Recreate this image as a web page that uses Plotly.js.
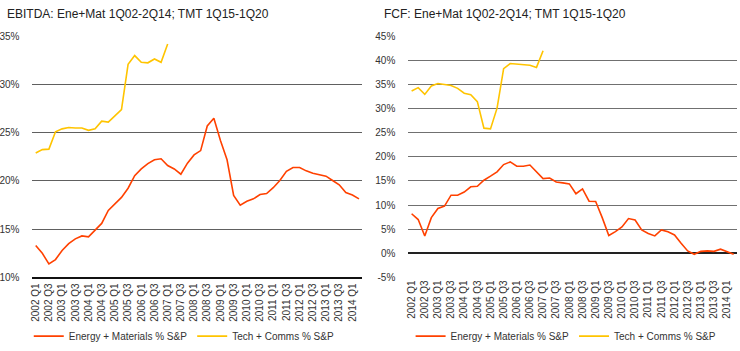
<!DOCTYPE html>
<html>
<head>
<meta charset="utf-8">
<script src="https://cdn.plot.ly/plotly-3.0.1.min.js"></script>
<style>html,body{margin:0;padding:0;background:#fff}#chart{width:740px;height:351px}</style>
</head>
<body>
<div id="chart"></div>
<script>
const quarters = ["2002 Q1","2002 Q2","2002 Q3","2002 Q4","2003 Q1","2003 Q2","2003 Q3","2003 Q4",
"2004 Q1","2004 Q2","2004 Q3","2004 Q4","2005 Q1","2005 Q2","2005 Q3","2005 Q4",
"2006 Q1","2006 Q2","2006 Q3","2006 Q4","2007 Q1","2007 Q2","2007 Q3","2007 Q4",
"2008 Q1","2008 Q2","2008 Q3","2008 Q4","2009 Q1","2009 Q2","2009 Q3","2009 Q4",
"2010 Q1","2010 Q2","2010 Q3","2010 Q4","2011 Q1","2011 Q2","2011 Q3","2011 Q4",
"2012 Q1","2012 Q2","2012 Q3","2012 Q4","2013 Q1","2013 Q2","2013 Q3","2013 Q4",
"2014 Q1","2014 Q2"];
const xTickLabels = ["2002 Q1","2002 Q3","2003 Q1","2003 Q3","2004 Q1","2004 Q3","2005 Q1","2005 Q3",
"2006 Q1","2006 Q3","2007 Q1","2007 Q3","2008 Q1","2008 Q3","2009 Q1","2009 Q3","2010 Q1","2010 Q3",
"2011 Q1","2011 Q3","2012 Q1","2012 Q3","2013 Q1","2013 Q3","2014 Q1"];

// EBITDA share of S&P (%)
const ebitdaEnergyMat = [13.3,12.5,11.4,11.85,12.8,13.5,14.0,14.3,14.2,14.95,15.6,16.95,17.6,18.3,19.25,20.55,
21.25,21.8,22.2,22.3,21.6,21.25,20.7,21.85,22.7,23.15,25.7,26.5,24.2,22.2,18.5,17.5,17.9,18.15,18.6,18.7,
19.3,20.05,21.0,21.4,21.4,21.05,20.8,20.65,20.5,20.05,19.6,18.8,18.55,18.15];
const ebitdaTechComms = [22.9,23.25,23.3,25.1,25.4,25.55,25.5,25.5,25.25,25.4,26.2,26.1,26.75,27.4,32.1,33.0,
32.3,32.25,32.65,32.3,34.2];

// FCF share of S&P (%)
const fcfEnergyMat = [8.2,7.0,3.6,7.4,9.3,9.8,12.05,12.05,12.7,13.8,13.9,15.15,16.0,16.9,18.4,18.95,18.05,18.05,
18.3,16.8,15.5,15.6,14.8,14.6,14.4,12.35,13.35,10.8,10.75,7.4,3.7,4.5,5.45,7.2,6.9,4.85,4.1,3.6,4.85,4.45,3.8,
2.1,0.5,-0.2,0.4,0.5,0.4,0.85,0.3,-0.2];
const fcfTechComms = [33.65,34.35,32.95,34.7,35.2,34.95,34.8,34.2,33.2,32.9,31.45,25.95,25.8,30.1,38.3,39.35,
39.2,39.15,39.0,38.55,42.0];

const leftYVals = [10,15,20,25,30,35];
const leftYText = ["10%","15%","20%","25%","30%","35%"];
const rightYVals = [-5,0,5,10,15,20,25,30,35,40,45];
const rightYText = ["-5%","0%","5%","10%","15%","20%","25%","30%","35%","40%","45%"];

const seriesNames = ["Energy + Materials % S&P","Tech + Comms % S&P"];
const titles = ["EBITDA: Ene+Mat 1Q02-2Q14; TMT 1Q15-1Q20","FCF: Ene+Mat 1Q02-2Q14; TMT 1Q15-1Q20"];

const RED = "#FF4100", YEL = "#FFC400";
const FONT = "Liberation Sans, Arial, sans-serif";

const traces = [
  {x: quarters, y: ebitdaEnergyMat, name: seriesNames[0], type: "scatter", mode: "lines",
   line: {color: RED, width: 1.6}, xaxis: "x", yaxis: "y", legend: "legend"},
  {x: quarters.slice(0, ebitdaTechComms.length), y: ebitdaTechComms, name: seriesNames[1], type: "scatter", mode: "lines",
   line: {color: YEL, width: 1.6}, xaxis: "x", yaxis: "y", legend: "legend"},
  {x: quarters, y: fcfEnergyMat, name: seriesNames[0], type: "scatter", mode: "lines",
   line: {color: RED, width: 1.6}, xaxis: "x2", yaxis: "y2", legend: "legend2"},
  {x: quarters.slice(0, fcfTechComms.length), y: fcfTechComms, name: seriesNames[1], type: "scatter", mode: "lines",
   line: {color: YEL, width: 1.6}, xaxis: "x2", yaxis: "y2", legend: "legend2"}
];

const xCommon = {type: "category", categoryorder: "array", categoryarray: quarters,
  tickmode: "array", tickvals: xTickLabels, ticktext: xTickLabels, tickangle: -90,
  tickfont: {size: 10, color: "#333", family: FONT}, showgrid: false, zeroline: false,
  ticks: "", range: [-0.5, 49.5], fixedrange: true};

const legendCommon = {orientation: "h", yanchor: "middle", y: 0.037, xanchor: "center",
  font: {size: 10, color: "#333", family: FONT}, itemwidth: 30, tracegroupgap: 0,
  bgcolor: "rgba(0,0,0,0)"};

const layout = {
  width: 740, height: 351,
  margin: {l: 0, r: 0, t: 0, b: 0},
  paper_bgcolor: "#fff", plot_bgcolor: "#fff",
  font: {family: FONT, color: "#333"},
  showlegend: true,
  xaxis: Object.assign({}, xCommon, {domain: [0.0438, 0.4896], anchor: "y",
    showline: true, linecolor: "#111", linewidth: 2}),
  yaxis: {domain: [0.2051, 0.8960], range: [10, 35], anchor: "x", tickmode: "array",
    tickvals: leftYVals, ticktext: leftYText, showgrid: true, gridcolor: "#606060", gridwidth: 1,
    zeroline: false, tickfont: {size: 10, color: "#333", family: FONT}, ticks: "",
    ticklabelstandoff: 12, fixedrange: true},
  xaxis2: Object.assign({}, xCommon, {domain: [0.5518, 0.9959], anchor: "y2", showline: false}),
  yaxis2: {domain: [0.2051, 0.8960], range: [-5, 45], anchor: "x2", tickmode: "array",
    tickvals: rightYVals, ticktext: rightYText, showgrid: true, gridcolor: "#707070", gridwidth: 1,
    zeroline: true, zerolinecolor: "#222", zerolinewidth: 2,
    tickfont: {size: 10, color: "#333", family: FONT}, ticks: "",
    ticklabelstandoff: 12, fixedrange: true},
  legend: Object.assign({}, legendCommon, {x: 0.249}),
  legend2: Object.assign({}, legendCommon, {x: 0.765}),
  annotations: [
    {text: titles[0], xref: "paper", yref: "paper", x: 5/740, y: 1 - 14/351, xanchor: "left", yanchor: "middle",
     showarrow: false, font: {size: 12, color: "#222", family: FONT}},
    {text: titles[1], xref: "paper", yref: "paper", x: 382/740, y: 1 - 14/351, xanchor: "left", yanchor: "middle",
     showarrow: false, font: {size: 12, color: "#222", family: FONT}}
  ]
};

Plotly.newPlot("chart", traces, layout, {staticPlot: true, displayModeBar: false});
</script>
</body>
</html>
